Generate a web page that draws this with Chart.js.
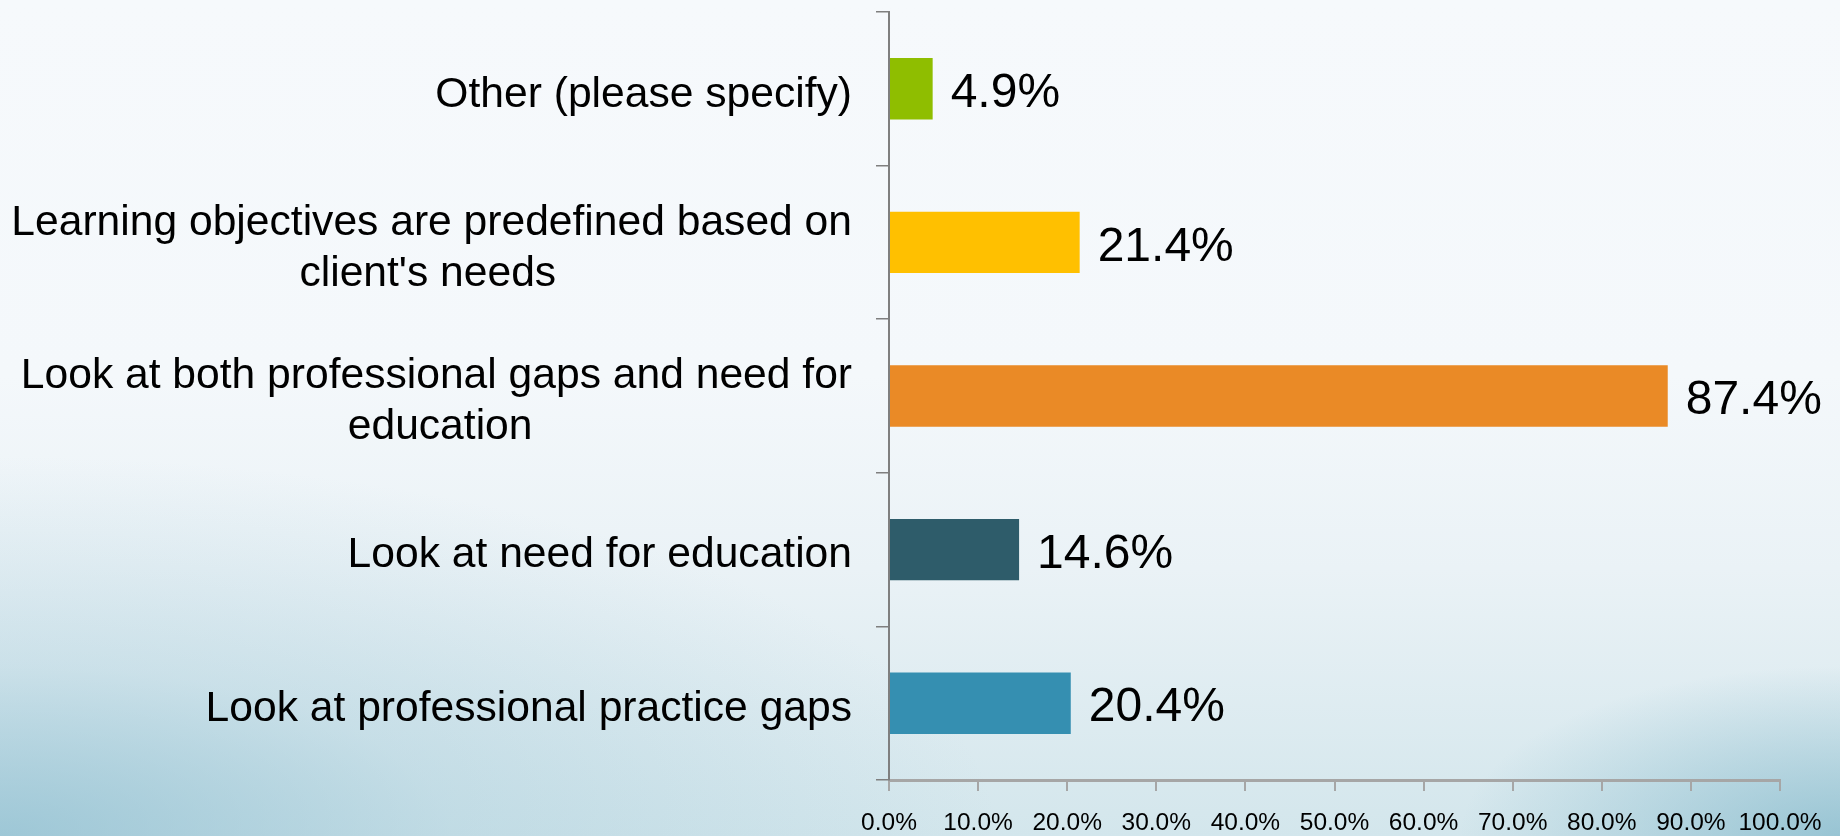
<!DOCTYPE html>
<html lang="en">

<head>
    <meta charset="UTF-8">
    <title>Needs assessment approach</title>
    <script src="https://cdn.jsdelivr.net/npm/chart.js"></script>
    <style>
        html,
        body {
            margin: 0;
            padding: 0;
        }

        body {
            width: 1840px;
            height: 836px;
            overflow: hidden;
            background:
                radial-gradient(ellipse 1000px 380px at 0% 100%, rgba(135, 186, 205, 0.7) 0%, rgba(135, 186, 205, 0.25) 45%, rgba(135, 186, 205, 0) 100%),
                radial-gradient(ellipse 380px 170px at 100% 100%, rgba(120, 178, 198, 0.65) 0%, rgba(120, 178, 198, 0) 100%),
                linear-gradient(to bottom, #f6f9fc 0%, #f4f8fb 45%, #eaf2f6 68%, #d3e6ec 100%);
        }

        .chart-box {
            position: relative;
            width: 1840px;
            height: 836px;
        }
    </style>
</head>

<body>
    <div class="chart-box">
        <canvas id="myChart"></canvas>
    </div>

    <script>
        // Categories, top to bottom
        const categories = [
            ['Other (please specify)'],
            ['Learning objectives are predefined based on', "client's needs"],
            ['Look at both professional gaps and need for', 'education'],
            ['Look at need for education'],
            ['Look at professional practice gaps']
        ];
        const percentages = [4.9, 21.4, 87.4, 14.6, 20.4];
        const barColors = ['#8fbe00', '#ffc000', '#ea8a26', '#2e5c6a', '#358fb1'];

        const labelFont = '42.6px "Liberation Sans", Arial, sans-serif';

        // Centre the lines of a label inside its own block while the block stays right-aligned
        function centreLines(lines) {
            if (lines.length < 2) return lines[0];
            const ctx = document.createElement('canvas').getContext('2d');
            ctx.font = labelFont;
            const widest = Math.max(...lines.map(l => ctx.measureText(l).width));
            const nbsp = ctx.measureText('\u00a0').width;
            return lines.map(l => {
                const pad = Math.round((widest - ctx.measureText(l).width) / 2 / nbsp);
                return l + '\u00a0'.repeat(pad);
            });
        }

        // Value labels at the end of each bar
        const valueLabels = {
            id: 'valueLabels',
            afterDatasetsDraw(chart) {
                const ctx = chart.ctx;
                const meta = chart.getDatasetMeta(0);
                ctx.save();
                ctx.font = '48px "Liberation Sans", Arial, sans-serif';
                ctx.fillStyle = '#000';
                ctx.textAlign = 'left';
                ctx.textBaseline = 'middle';
                meta.data.forEach((bar, i) => {
                    ctx.fillText(percentages[i].toFixed(1) + '%', bar.x + 18, bar.y + 5);
                });
                ctx.restore();
            }
        };

        const ctx = document.getElementById('myChart').getContext('2d');
        new Chart(ctx, {
            type: 'bar',
            data: {
                labels: categories.map(centreLines),
                datasets: [{
                    data: percentages,
                    backgroundColor: barColors,
                    borderWidth: 0,
                    barPercentage: 0.4,
                    categoryPercentage: 1
                }]
            },
            options: {
                indexAxis: 'y',
                responsive: true,
                maintainAspectRatio: false,
                animation: false,
                layout: {
                    padding: { top: 12, right: 60, bottom: 0, left: 0 }
                },
                plugins: {
                    legend: { display: false },
                    tooltip: { enabled: false }
                },
                scales: {
                    x: {
                        min: 0,
                        max: 100,
                        ticks: {
                            stepSize: 10,
                            padding: 18,
                            color: '#000',
                            font: { family: '"Liberation Sans", Arial, sans-serif', size: 24.5 },
                            callback: v => v.toFixed(1) + '%'
                        },
                        grid: {
                            drawOnChartArea: false,
                            tickLength: 11,
                            color: '#a6a6a6',
                            lineWidth: 2
                        },
                        border: { color: '#a6a6a6', width: 3 },
                        afterFit: scale => {
                            scale.height = 56;
                            scale.paddingLeft = 0;
                            scale.paddingRight = 0;
                        }
                    },
                    y: {
                        ticks: {
                            padding: 24,
                            labelOffset: 6,
                            color: '#000',
                            font: { family: '"Liberation Sans", Arial, sans-serif', size: 42.6, lineHeight: 1.2 }
                        },
                        grid: {
                            offset: true,
                            drawOnChartArea: false,
                            tickLength: 13,
                            color: '#7f7f7f',
                            lineWidth: 1.5
                        },
                        border: { color: '#7f7f7f', width: 2 },
                        afterFit: scale => {
                            scale.width = 889;
                            scale.paddingTop = 0;
                            scale.paddingBottom = 0;
                        }
                    }
                }
            },
            plugins: [valueLabels]
        });
    </script>

</body>

</html>
